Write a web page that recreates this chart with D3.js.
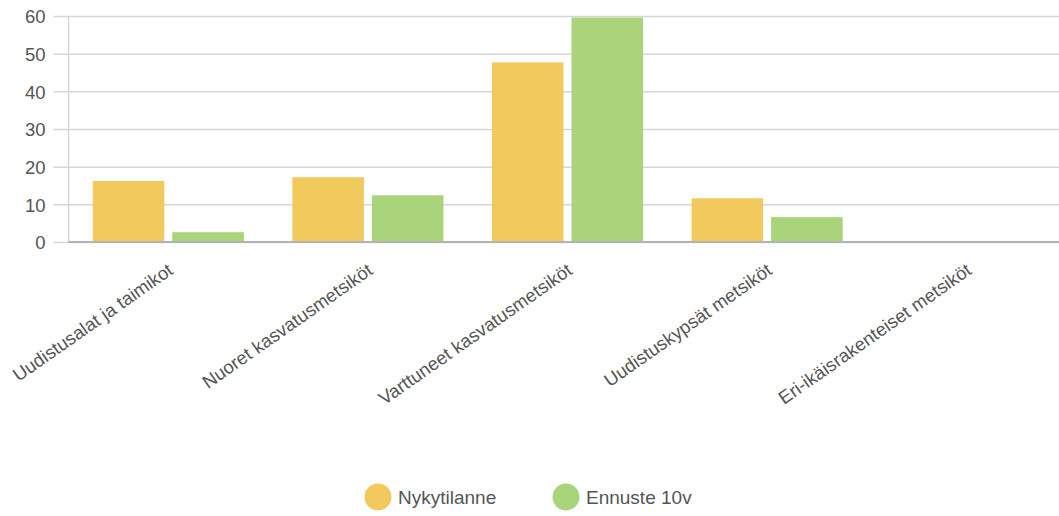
<!DOCTYPE html>
<html><head><meta charset="utf-8">
<script src="https://cdn.jsdelivr.net/npm/d3@7"></script>
<style>
html,body{margin:0;padding:0;background:#fff;}
svg{display:block;font-family:"Liberation Sans",Arial,Helvetica,sans-serif;}
</style></head>
<body>
<svg id="chart" width="1059" height="516"></svg>
<script>
const categories = ["Uudistusalat ja taimikot","Nuoret kasvatusmetsiköt","Varttuneet kasvatusmetsiköt","Uudistuskypsät metsiköt","Eri-ikäisrakenteiset metsiköt"];
const seriesNames = ["Nykytilanne","Ennuste 10v"];
const nykytilanne = [16.2, 17.2, 47.7, 11.6, 0.2];
const ennuste10v = [2.6, 12.4, 59.6, 6.6, 0];
const yTicks = [0,10,20,30,40,50,60];
const colors = ["#F1C95C","#A9D479"];

const svg = d3.select("#chart");
const mLeft = 68.5, mRight = 1066.5, mTop = 16, mBottom = 242;

const x0 = d3.scaleBand().domain(categories).range([mLeft, mRight]).paddingInner(0).paddingOuter(0);
const x1 = d3.scaleBand().domain(seriesNames).range([0, x0.bandwidth()]).paddingInner(0.1005).paddingOuter(0.3047);
const y = d3.scaleLinear().domain([0,60]).range([mBottom, mTop]);

// gridlines
const yAxis = d3.axisLeft(y).tickValues(yTicks).tickSize(-(1059 - mLeft)).tickPadding(8);
const gy = svg.append("g").attr("transform", `translate(${mLeft},0)`).call(yAxis);
gy.select(".domain").remove();
gy.selectAll(".tick line").attr("stroke","#d6d6d6").attr("stroke-width",1.5).attr("x1",-15);
gy.selectAll(".tick text").attr("fill","#555").attr("font-size",18.5).attr("x",-23).attr("dy","0.36em");

// vertical axis line
svg.append("line").attr("x1",mLeft).attr("x2",mLeft).attr("y1",mTop).attr("y2",mBottom)
  .attr("stroke","#d6d6d6").attr("stroke-width",1.5);

// bars
const data = categories.map((c,i)=>({cat:c, vals:[nykytilanne[i], ennuste10v[i]]}));
const groups = svg.append("g").selectAll("g").data(data).join("g")
  .attr("transform", d=>`translate(${x0(d.cat)},0)`);
groups.selectAll("rect").data(d=>d.vals.map((v,j)=>({s:seriesNames[j], v, j})))
  .join("rect")
  .attr("x", d=>x1(d.s)).attr("width", x1.bandwidth())
  .attr("y", d=>y(d.v)).attr("height", d=>y(0)-y(d.v))
  .attr("fill", d=>colors[d.j]);

// baseline
svg.append("line").attr("x1",mLeft).attr("x2",1059).attr("y1",mBottom).attr("y2",mBottom)
  .attr("stroke","#b3b3b3").attr("stroke-width",2);

// x labels
const xAxis = d3.axisBottom(x0).tickSize(0).tickPadding(0);
const gx = svg.append("g").attr("transform",`translate(0,${mBottom})`).call(xAxis);
gx.select(".domain").remove();
gx.selectAll(".tick text")
  .attr("fill","#555").attr("font-size",18.5)
  .attr("text-anchor","end")
  .attr("transform","translate(6,31) rotate(-35)")
  .attr("dy","0em").attr("y",0);

// legend
const legend = svg.append("g");
const legendX = [378, 566];
seriesNames.forEach((s,i)=>{
  legend.append("circle").attr("cx",legendX[i]).attr("cy",497).attr("r",13.5).attr("fill",colors[i]);
  legend.append("text").attr("x",legendX[i]+20).attr("y",497).attr("dy","0.36em")
    .attr("font-size",19).attr("fill","#555").text(s);
});
</script>
</body></html>
